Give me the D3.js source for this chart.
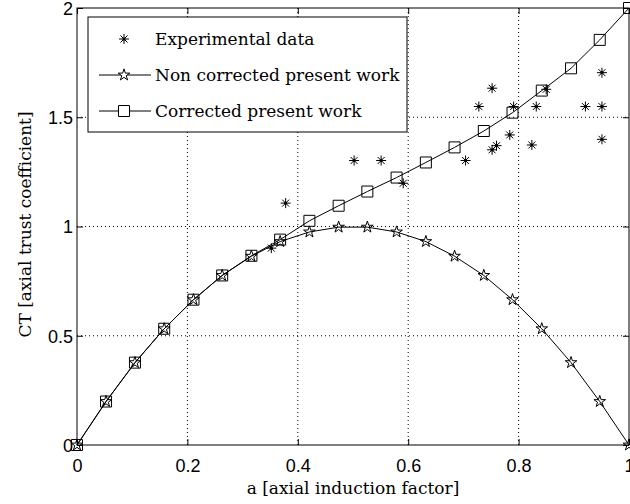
<!DOCTYPE html>
<html>
<head>
<meta charset="utf-8">
<script src="https://cdn.jsdelivr.net/npm/d3@7"></script>
<style>
  body { margin: 0; background: #fff; }
  svg { display: block; }
  .serif { font-family: "DejaVu Serif", serif; font-size: 17px; fill: #000; }
  .tick-label { font-family: "Liberation Sans", Arial, sans-serif; font-size: 18px; fill: #000; }
</style>
</head>
<body>
<div id="chart"></div>
<script>
// axial induction factor at which the model was evaluated
var aModel = [0, 0.0526, 0.105, 0.158, 0.211, 0.263, 0.316, 0.368, 0.421, 0.474,
              0.526, 0.579, 0.632, 0.684, 0.737, 0.789, 0.842, 0.895, 0.947, 1];
var ctNonCorrected = [0, 0.199, 0.377, 0.532, 0.665, 0.776, 0.864, 0.931, 0.975, 0.997,
                      0.997, 0.975, 0.931, 0.864, 0.776, 0.665, 0.532, 0.377, 0.199, 0];
var ctCorrected = [0, 0.199, 0.377, 0.532, 0.665, 0.776, 0.866, 0.94, 1.026, 1.095,
                   1.16, 1.224, 1.293, 1.362, 1.437, 1.521, 1.622, 1.724, 1.854, 2.0];

// experimental points
var aExp = [0.352, 0.378, 0.502, 0.551, 0.591, 0.704, 0.728, 0.752, 0.752, 0.760,
            0.784, 0.791, 0.824, 0.832, 0.850, 0.921, 0.951, 0.951, 0.951];
var ctExp = [0.901, 1.107, 1.302, 1.302, 1.198, 1.302, 1.549, 1.633, 1.351, 1.370,
             1.419, 1.549, 1.373, 1.549, 1.628, 1.549, 1.549, 1.704, 1.399];

var xTicks = [0, 0.2, 0.4, 0.6, 0.8, 1];
var yTicks = [0, 0.5, 1, 1.5, 2];
var xGrid = [0.2, 0.4, 0.6, 0.8];
var yGrid = [0.5, 1, 1.5];

var legendLabels = ["Experimental data", "Non corrected present work", "Corrected present work"];

var width = 630, height = 504;
var pLeft = 77, pRight = 629, pTop = 8, pBottom = 445;

var x = d3.scaleLinear().domain([0, 1]).range([pLeft, pRight]);
var y = d3.scaleLinear().domain([0, 2]).range([pBottom, pTop]);

var svg = d3.select('#chart').append('svg')
    .attr('width', width)
    .attr('height', height);

// dotted grid
svg.append('g').selectAll('line').data(xGrid).join('line')
    .attr('x1', function(d) { return x(d); }).attr('x2', function(d) { return x(d); })
    .attr('y1', pTop).attr('y2', pBottom)
    .attr('stroke', '#000').attr('stroke-width', 1).attr('stroke-dasharray', '1,3');
svg.append('g').selectAll('line').data(yGrid).join('line')
    .attr('y1', function(d) { return y(d); }).attr('y2', function(d) { return y(d); })
    .attr('x1', pLeft).attr('x2', pRight)
    .attr('stroke', '#000').attr('stroke-width', 1).attr('stroke-dasharray', '1,3');

// axes, ticks pointing inward, on all four sides
var fmt = function(d) { return d3.format('')(d); };
var bottomAxis = d3.axisBottom(x).tickValues(xTicks).tickSize(-6).tickFormat(fmt);
var topAxis = d3.axisTop(x).tickValues(xTicks).tickSize(-6).tickFormat('');
var leftAxis = d3.axisLeft(y).tickValues(yTicks).tickSize(-6).tickFormat(fmt);
var rightAxis = d3.axisRight(y).tickValues(yTicks).tickSize(-6).tickFormat('');

function styleAxis(g) {
    g.select('.domain').remove();
    g.selectAll('.tick line').attr('stroke', '#000');
}

var gb = svg.append('g').attr('transform', 'translate(0,' + pBottom + ')').call(bottomAxis).call(styleAxis);
gb.selectAll('.tick text').attr('class', 'tick-label').attr('dy', null).attr('y', 27);
gb.attr('font-family', null).attr('font-size', null);
svg.append('g').attr('transform', 'translate(0,' + pTop + ')').call(topAxis).call(styleAxis);
var gl = svg.append('g').attr('transform', 'translate(' + pLeft + ',0)').call(leftAxis).call(styleAxis);
gl.selectAll('.tick text').attr('class', 'tick-label').attr('dy', '0.36em').attr('x', -4);
gl.attr('font-family', null).attr('font-size', null);
svg.append('g').attr('transform', 'translate(' + pRight + ',0)').call(rightAxis).call(styleAxis);

// plot box
svg.append('rect')
    .attr('x', pLeft).attr('y', pTop)
    .attr('width', pRight - pLeft).attr('height', pBottom - pTop)
    .attr('fill', 'none').attr('stroke', '#000').attr('stroke-width', 1);

// curves
var line = d3.line()
    .x(function(d) { return x(d[0]); })
    .y(function(d) { return y(d[1]); });

var nonCorr = d3.zip(aModel, ctNonCorrected);
var corr = d3.zip(aModel, ctCorrected);
var exper = d3.zip(aExp, ctExp);

svg.append('path').datum(nonCorr).attr('d', line)
    .attr('fill', 'none').attr('stroke', '#000').attr('stroke-width', 1);
svg.append('path').datum(corr).attr('d', line)
    .attr('fill', 'none').attr('stroke', '#000').attr('stroke-width', 1);

// marker shapes
var starPath = d3.symbol().type(d3.symbolStar).size(42)();
var squarePath = d3.symbol().type(d3.symbolSquare).size(121)();
function asteriskPath(r) {
    var d = r * 0.7;
    return 'M0,' + (-r) + 'L0,' + r + 'M' + (-r) + ',0L' + r + ',0' +
        'M' + (-d) + ',' + (-d) + 'L' + d + ',' + d +
        'M' + (-d) + ',' + d + 'L' + d + ',' + (-d);
}

svg.append('g').selectAll('path').data(corr).join('path')
    .attr('transform', function(d) { return 'translate(' + x(d[0]) + ',' + y(d[1]) + ')'; })
    .attr('d', squarePath)
    .attr('fill', 'none').attr('stroke', '#000').attr('stroke-width', 1);

svg.append('g').selectAll('path').data(nonCorr).join('path')
    .attr('transform', function(d) { return 'translate(' + x(d[0]) + ',' + y(d[1]) + ')'; })
    .attr('d', starPath)
    .attr('fill', 'none').attr('stroke', '#000').attr('stroke-width', 1);

var expG = svg.append('g').selectAll('g').data(exper).join('g')
    .attr('transform', function(d) { return 'translate(' + x(d[0]) + ',' + y(d[1]) + ')'; });
expG.append('path').attr('d', asteriskPath(5))
    .attr('fill', 'none').attr('stroke', '#000').attr('stroke-width', 1);
expG.append('circle').attr('r', 1.6).attr('fill', '#000');

// axis labels
svg.append('text').attr('class', 'serif')
    .attr('x', (pLeft + pRight) / 2).attr('y', 494)
    .attr('text-anchor', 'middle')
    .text('a [axial induction factor]');
svg.append('text').attr('class', 'serif')
    .attr('transform', 'translate(31,' + ((pTop + pBottom) / 2 - 2) + ') rotate(-90)')
    .attr('text-anchor', 'middle')
    .text('CT [axial trust coefficient]');

// legend
var lg = svg.append('g');
lg.append('rect')
    .attr('x', 88).attr('y', 17).attr('width', 319).attr('height', 115)
    .attr('fill', '#fff').attr('stroke', '#000').attr('stroke-width', 1);
var rowY = [39, 75, 111];
var rows = lg.selectAll('g').data(legendLabels).join('g')
    .attr('transform', function(d, i) { return 'translate(0,' + rowY[i] + ')'; });
rows.append('text').attr('class', 'serif')
    .attr('x', 155).attr('y', 6)
    .text(function(d) { return d; });
rows.filter(function(d, i) { return i > 0; }).append('line')
    .attr('x1', 99).attr('x2', 151).attr('y1', 0).attr('y2', 0)
    .attr('stroke', '#000').attr('stroke-width', 1);
rows.append('path')
    .attr('transform', 'translate(124,0)')
    .attr('d', function(d, i) { return i === 0 ? asteriskPath(5) : (i === 1 ? starPath : squarePath); })
    .attr('fill', function(d, i) { return i === 0 ? 'none' : '#fff'; })
    .attr('stroke', '#000').attr('stroke-width', 1);
rows.filter(function(d, i) { return i === 0; }).append('circle')
    .attr('cx', 124).attr('r', 1.6).attr('fill', '#000');
</script>
</body>
</html>
